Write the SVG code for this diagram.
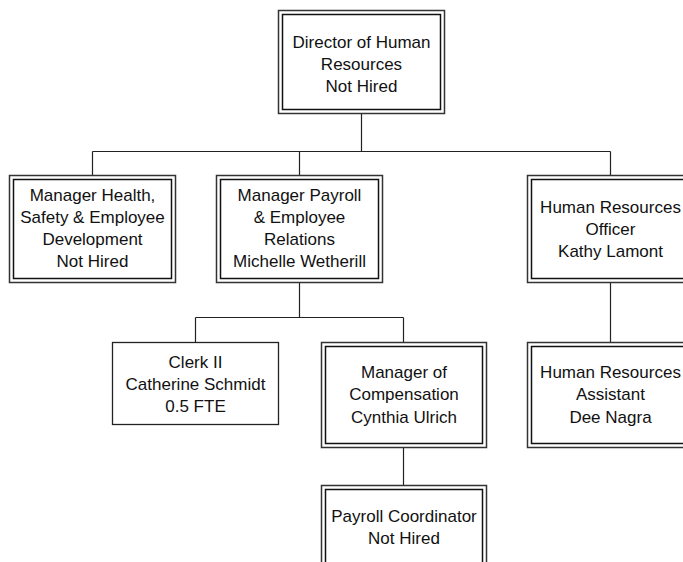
<svg xmlns="http://www.w3.org/2000/svg" width="683" height="562" viewBox="0 0 683 562">
  <style>
    .outer { fill: #ffffff; stroke: #333333; stroke-width: 1.5; }
    .inner { fill: none; stroke: #111111; stroke-width: 1.5; }
    .single { fill: #ffffff; stroke: #222222; stroke-width: 1.3; }
    .wire { fill: none; stroke: #222222; stroke-width: 1.2; }
    text { font-family: "Liberation Sans", Arial, sans-serif; font-size: 17px; fill: #111111; text-anchor: middle; }
  </style>
  <rect width="683" height="562" fill="#ffffff"/>

  <!-- reporting lines -->
  <g id="connectors">
    <path class="wire" d="M361.5 113 V151.5 M92.5 151.5 H610.5 M92.5 151.5 V175 M299.5 151.5 V175 M610.5 151.5 V175"/>
    <path class="wire" d="M299.5 282 V317.5 M195.5 317.5 H403.5 M195.5 317.5 V342 M403.5 317.5 V342"/>
    <path class="wire" d="M610.5 282 V342"/>
    <path class="wire" d="M403.5 447 V485"/>
  </g>

  <g id="director-hr">
    <rect class="outer" x="278.5" y="10.5" width="166" height="103"/>
    <rect class="inner" x="282.5" y="14.5" width="158" height="95"/>
    <text x="361.5" y="48">Director of Human</text>
    <text x="361.5" y="70">Resources</text>
    <text x="361.5" y="92">Not Hired</text>
  </g>

  <g id="manager-health-safety">
    <rect class="outer" x="9.5" y="175.5" width="166" height="107"/>
    <rect class="inner" x="13.5" y="179.5" width="158" height="99"/>
    <text x="92.5" y="201">Manager Health,</text>
    <text x="92.5" y="223">Safety &amp; Employee</text>
    <text x="92.5" y="245">Development</text>
    <text x="92.5" y="267">Not Hired</text>
  </g>

  <g id="manager-payroll">
    <rect class="outer" x="216.5" y="175.5" width="166" height="107"/>
    <rect class="inner" x="220.5" y="179.5" width="158" height="99"/>
    <text x="299.5" y="201">Manager Payroll</text>
    <text x="299.5" y="223">&amp; Employee</text>
    <text x="299.5" y="245">Relations</text>
    <text x="299.5" y="267">Michelle Wetherill</text>
  </g>

  <g id="hr-officer">
    <rect class="outer" x="527.5" y="175.5" width="166" height="107"/>
    <rect class="inner" x="531.5" y="179.5" width="158" height="99"/>
    <text x="610.5" y="213">Human Resources</text>
    <text x="610.5" y="235">Officer</text>
    <text x="610.5" y="257">Kathy Lamont</text>
  </g>

  <g id="clerk-ii">
    <rect class="single" x="112.5" y="342.5" width="166" height="82"/>
    <text x="195.5" y="368">Clerk II</text>
    <text x="195.5" y="390">Catherine Schmidt</text>
    <text x="195.5" y="412">0.5 FTE</text>
  </g>

  <g id="manager-compensation">
    <rect class="outer" x="321.5" y="342.5" width="165" height="105"/>
    <rect class="inner" x="325.5" y="346.5" width="157" height="97"/>
    <text x="404" y="378">Manager of</text>
    <text x="404" y="400">Compensation</text>
    <text x="404" y="423">Cynthia Ulrich</text>
  </g>

  <g id="hr-assistant">
    <rect class="outer" x="527.5" y="342.5" width="166" height="105"/>
    <rect class="inner" x="531.5" y="346.5" width="158" height="97"/>
    <text x="610.5" y="378">Human Resources</text>
    <text x="610.5" y="400">Assistant</text>
    <text x="610.5" y="423">Dee Nagra</text>
  </g>

  <g id="payroll-coordinator">
    <rect class="outer" x="321.5" y="485.5" width="165" height="105"/>
    <rect class="inner" x="325.5" y="489.5" width="157" height="97"/>
    <text x="404" y="522">Payroll Coordinator</text>
    <text x="404" y="544">Not Hired</text>
  </g>
</svg>
